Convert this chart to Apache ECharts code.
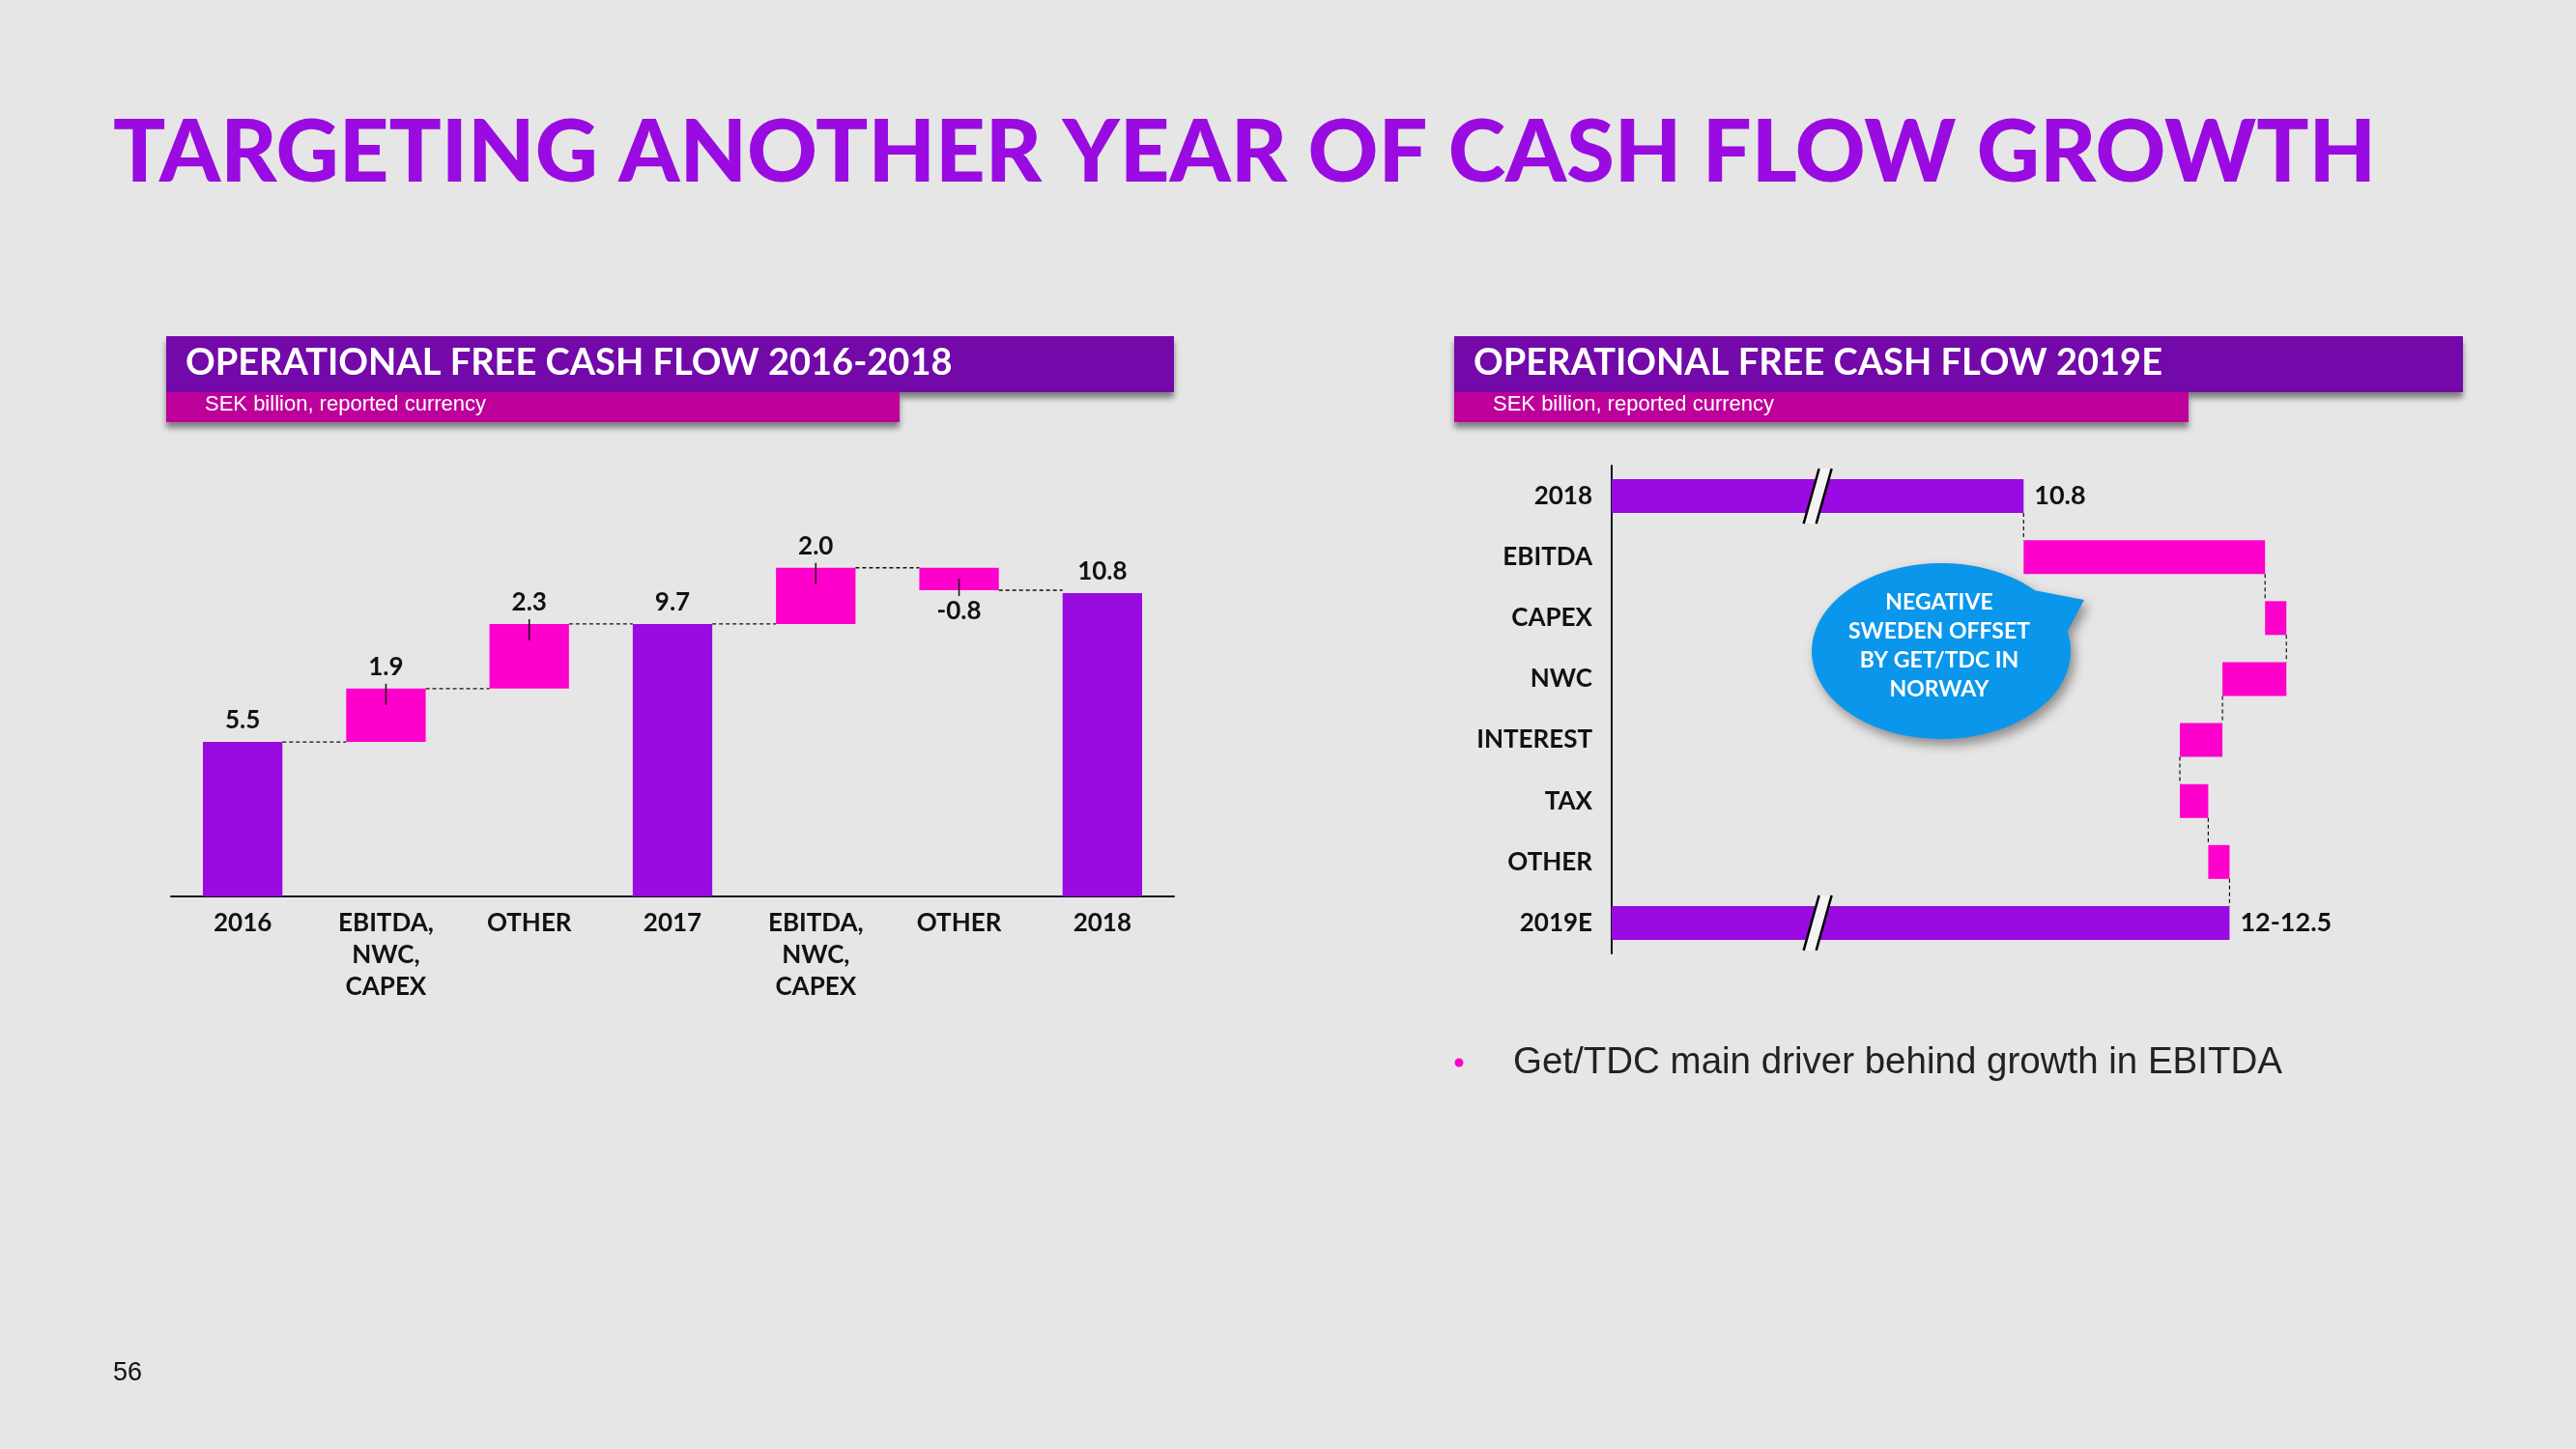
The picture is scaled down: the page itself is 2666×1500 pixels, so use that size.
<!DOCTYPE html>
<html>
<head>
<meta charset="utf-8">
<script src="https://cdn.jsdelivr.net/npm/echarts@6/dist/echarts.min.js"></script>
<style>
html,body{margin:0;padding:0;background:#e6e6e6;}
#chart{width:2666px;height:1500px;}
</style>
</head>
<body>
<div id="chart"></div>
<script>
// ---------- DATA ----------
var leftCategories = ['2016', 'EBITDA,\nNWC,\nCAPEX', 'OTHER', '2017', 'EBITDA,\nNWC,\nCAPEX', 'OTHER', '2018'];
var leftValues = [5.5, 1.9, 2.3, 9.7, 2.0, -0.8, 10.8];
var leftIsTotal = [1, 0, 0, 1, 0, 0, 1];
var leftLabels = ['5.5', '1.9', '2.3', '9.7', '2.0', '-0.8', '10.8'];

var rightCategories = ['2018', 'EBITDA', 'CAPEX', 'NWC', 'INTEREST', 'TAX', 'OTHER', '2019E'];
var rightValues = [10.8, 1.7, 0.15, -0.45, -0.3, 0.2, 0.15, 12.25];
var rightIsTotal = [1, 0, 0, 0, 0, 0, 0, 1];
var rightLabels = ['10.8', '', '', '', '', '', '', '12-12.5'];

// ---------- STYLE ----------
var PURPLE = '#990be0';
var PINK = '#ff00cc';
var LABEL_FONT = 'Lato, "Open Sans", sans-serif';

function waterfall(values, isTotal) {
  var out = [], run = 0;
  for (var i = 0; i < values.length; i++) {
    var s, e;
    if (isTotal[i]) { s = 0; e = values[i]; }
    else { s = run; e = run + values[i]; }
    run = e;
    out.push([i, s, e, isTotal[i], values[i]]);
  }
  return out;
}
var leftData = waterfall(leftValues, leftIsTotal);
var rightData = waterfall(rightValues, rightIsTotal);

var chart = echarts.init(document.getElementById('chart'));

function renderLeft(params, api) {
  var idx = api.value(0), s = api.value(1), e = api.value(2), tot = api.value(3), v = api.value(4);
  var p0 = api.coord([idx, s]), p1 = api.coord([idx, e]);
  var bw = api.size([1, 0])[0] * 0.555;
  var x = p0[0] - bw / 2;
  var yTop = Math.min(p0[1], p1[1]), yBot = Math.max(p0[1], p1[1]);
  var children = [{
    type: 'rect',
    shape: { x: x, y: yTop, width: bw, height: yBot - yTop },
    style: { fill: tot ? PURPLE : PINK }
  }];
  if (v >= 0) {
    children.push({ type: 'text', style: { x: p0[0], y: yTop - 9, text: leftLabels[idx], align: 'center', verticalAlign: 'bottom', font: 'bold 26px ' + LABEL_FONT, fill: '#111' } });
    if (!tot) children.push({ type: 'line', shape: { x1: p0[0], y1: yTop - 5, x2: p0[0], y2: yTop + 17 }, style: { stroke: '#111', lineWidth: 1.5 } });
  } else {
    children.push({ type: 'text', style: { x: p0[0], y: yBot + 9, text: leftLabels[idx], align: 'center', verticalAlign: 'top', font: 'bold 26px ' + LABEL_FONT, fill: '#111' } });
    children.push({ type: 'line', shape: { x1: p0[0], y1: yBot - 12, x2: p0[0], y2: yBot + 6 }, style: { stroke: '#111', lineWidth: 1.5 } });
  }
  if (idx < leftValues.length - 1) {
    var pn = api.coord([idx + 1, e]);
    children.push({ type: 'line', shape: { x1: x + bw, y1: p1[1], x2: pn[0] - bw / 2, y2: p1[1] }, style: { stroke: '#111', lineWidth: 1.3, lineDash: [4, 3] } });
  }
  return { type: 'group', children: children };
}

var BREAK_AT = 9.35;
function renderRight(params, api) {
  var idx = api.value(1), s = api.value(2), e = api.value(3), tot = api.value(4);
  var cs = params.coordSys;
  var p0 = api.coord([s, idx]), p1 = api.coord([e, idx]);
  var bh = api.size([0, 1])[1] * 0.555;
  var yc = p0[1];
  var xl = Math.max(Math.min(p0[0], p1[0]), cs.x);
  var xr = Math.max(p0[0], p1[0]);
  var children = [{
    type: 'rect',
    shape: { x: xl, y: yc - bh / 2, width: xr - xl, height: bh },
    style: { fill: tot ? PURPLE : PINK }
  }];
  if (rightLabels[idx]) {
    children.push({ type: 'text', style: { x: xr + 11, y: yc, text: rightLabels[idx], align: 'left', verticalAlign: 'middle', font: 'bold 27px ' + LABEL_FONT, fill: '#111' } });
  }
  if (tot) {
    var bx = api.coord([BREAK_AT, idx])[0];
    var ext = bh / 2 + 11, sl = 8, hw = 6.5;
    children.push({ type: 'polygon', shape: { points: [[bx + sl - hw, yc - ext], [bx + sl + hw, yc - ext], [bx - sl + hw, yc + ext], [bx - sl - hw, yc + ext]] }, style: { fill: '#f4f4f4' } });
    children.push({ type: 'line', shape: { x1: bx + sl - hw, y1: yc - ext, x2: bx - sl - hw, y2: yc + ext }, style: { stroke: '#000', lineWidth: 2.5 } });
    children.push({ type: 'line', shape: { x1: bx + sl + hw, y1: yc - ext, x2: bx - sl + hw, y2: yc + ext }, style: { stroke: '#000', lineWidth: 2.5 } });
  }
  if (idx < rightValues.length - 1) {
    var pn = api.coord([e, idx + 1]);
    children.push({ type: 'line', shape: { x1: p1[0], y1: yc + bh / 2, x2: p1[0], y2: pn[1] - bh / 2 }, style: { stroke: '#111', lineWidth: 1.2, lineDash: [4, 3] } });
  }
  return { type: 'group', children: children };
}

// speech bubble outline
function bubblePoints(cx, cy, rx, ry, a0, a1, tip) {
  var pts = [];
  var n = 90;
  for (var k = 0; k <= n; k++) {
    var a = (a0 + (a1 - a0) * k / n) * Math.PI / 180;
    pts.push([cx + rx * Math.cos(a), cy + ry * Math.sin(a)]);
  }
  pts.push(tip);
  return pts;
}

function banner(x, wTop, wSub, title, sub) {
  return [
    { type: 'rect', left: x, top: 406, z: 1, shape: { width: wSub, height: 31 }, style: { fill: '#be009b', shadowBlur: 6, shadowOffsetY: 6, shadowColor: 'rgba(0,0,0,0.45)' } },
    { type: 'rect', left: x, top: 348, z: 2, shape: { width: wTop, height: 58 }, style: { fill: '#7209a8', shadowBlur: 6, shadowOffsetY: 6, shadowColor: 'rgba(0,0,0,0.45)' } },
    { type: 'rect', left: x, top: 406, z: 3, shape: { width: wSub, height: 31 }, style: { fill: '#be009b' } },
    { type: 'text', left: x + 20, top: 357, z: 4, style: { text: title, font: 'bold 38px ' + LABEL_FONT, fill: '#fff' } },
    { type: 'text', left: x + 40, top: 408, z: 4, style: { text: sub, font: '22px "Liberation Sans", Arial, sans-serif', fill: '#fff' } }
  ];
}

var graphics = [
  { type: 'text', left: 117, top: 114, style: { text: 'TARGETING ANOTHER YEAR OF CASH FLOW GROWTH', font: '900 90px ' + LABEL_FONT, fill: PURPLE } },
  { type: 'circle', shape: { cx: 1510, cy: 1100, r: 4.5 }, style: { fill: PINK } },
  { type: 'text', left: 1566, top: 1081, style: { text: 'Get/TDC main driver behind growth in EBITDA', font: '38.5px "Liberation Sans", Arial, sans-serif', fill: '#222' } },
  { type: 'text', left: 117, top: 1408, style: { text: '56', font: '27px "Liberation Sans", Arial, sans-serif', fill: '#111' } },
  { type: 'polygon', z: 10, shape: { points: bubblePoints(2009, 674, 134, 91, -13, 316.4, [2157, 621]) }, style: { fill: '#0a96eb', shadowBlur: 12, shadowOffsetX: 4, shadowOffsetY: 6, shadowColor: 'rgba(0,0,0,0.4)' } },
  { type: 'text', z: 11, x: 2007, y: 669, style: { text: 'NEGATIVE\nSWEDEN OFFSET\nBY GET/TDC IN\nNORWAY', align: 'center', verticalAlign: 'middle', lineHeight: 30, font: 'bold 23px ' + LABEL_FONT, fill: '#fff' } }
].concat(banner(172, 1043, 759, 'OPERATIONAL FREE CASH FLOW 2016-2018', 'SEK billion, reported currency'))
 .concat(banner(1505, 1044, 760, 'OPERATIONAL FREE CASH FLOW 2019E', 'SEK billion, reported currency'));

chart.setOption({
  backgroundColor: '#e6e6e6',
  animation: false,
  grid: [
    { left: 177, top: 579, width: 1038, height: 349 },
    { left: 1668, top: 482, width: 735, height: 505 }
  ],
  xAxis: [
    { gridIndex: 0, type: 'category', data: leftCategories,
      axisLine: { lineStyle: { color: '#111', width: 2 } }, axisTick: { show: false },
      axisLabel: { margin: 11, color: '#111', fontFamily: LABEL_FONT, fontWeight: 'bold', fontSize: 26, lineHeight: 33, interval: 0 },
      splitLine: { show: false } },
    { gridIndex: 1, type: 'value', min: 7.9, max: 12.9, show: false, splitLine: { show: false } }
  ],
  yAxis: [
    { gridIndex: 0, type: 'value', min: 0, max: 12, show: false, splitLine: { show: false } },
    { gridIndex: 1, type: 'category', data: rightCategories, inverse: true,
      axisLine: { lineStyle: { color: '#111', width: 2 } }, axisTick: { show: false },
      axisLabel: { margin: 20, color: '#111', fontFamily: LABEL_FONT, fontWeight: 'bold', fontSize: 26, interval: 0 },
      splitLine: { show: false } }
  ],
  graphic: graphics,
  series: [
    { type: 'custom', xAxisIndex: 0, yAxisIndex: 0, renderItem: renderLeft, data: leftData,
      encode: { x: 0, y: [1, 2] }, clip: false },
    { type: 'custom', xAxisIndex: 1, yAxisIndex: 1, renderItem: renderRight,
      data: rightData.map(function (d) { return [d[1], d[0], d[1], d[2], d[3]]; }),
      encode: { x: [2, 3], y: 1 }, clip: false }
  ]
});
</script>
</body>
</html>
